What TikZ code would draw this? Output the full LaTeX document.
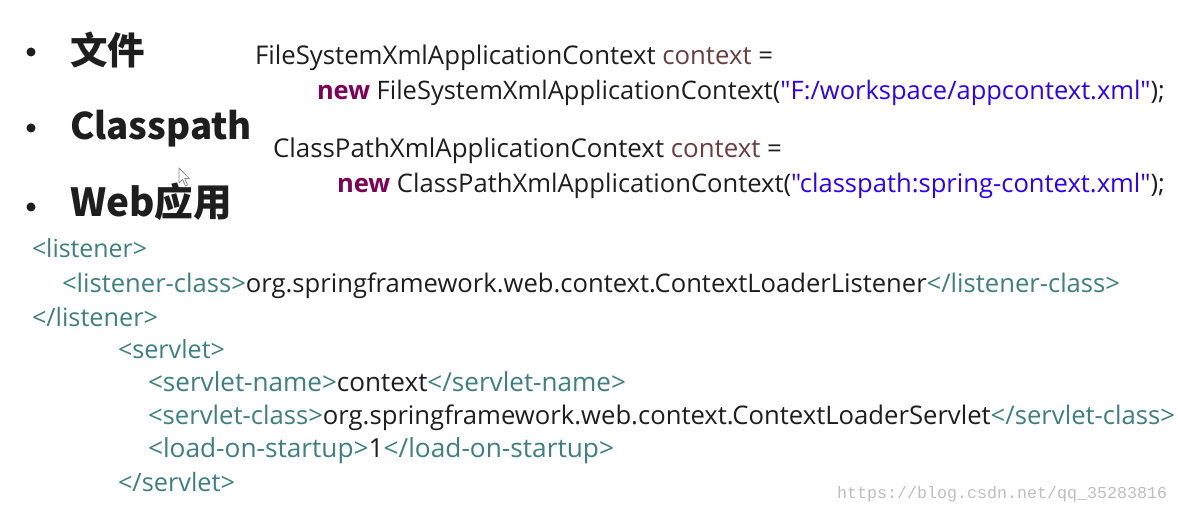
\documentclass[tikz,border=0pt]{standalone}
\usepackage{fontspec}
\usepackage{graphicx}
\setmainfont{Open Sans}[Ligatures=TeXOff]
\newfontfamily\hd{Noto Sans CJK SC}
\newfontfamily\wm{Liberation Mono}
\definecolor{tagc}{HTML}{3F7F7F}
\definecolor{kw}{HTML}{7F0055}
\definecolor{strc}{HTML}{2A00FF}
\definecolor{varc}{HTML}{6A3E3E}
\definecolor{txt}{HTML}{1E1E1E}
\newcommand\fw[2]{\resizebox{#1pt}{!}{#2}}
\newcommand\tg[1]{\textcolor{tagc}{#1}}
\begin{document}
\begin{tikzpicture}[x=1pt,y=-1pt,
  code/.style={anchor=base west,inner sep=0pt,outer sep=0pt,font=\fontsize{20}{24}\selectfont,text=txt},
  head/.style={anchor=base west,inner sep=0pt,outer sep=0pt,font=\hd\bfseries\fontsize{36}{40}\selectfont,text=txt},
  bul/.style={circle,fill=txt,inner sep=0pt,minimum size=9pt}]
\useasboundingbox[fill=white] (0,0) rectangle (1178,513);
% bullets and headings
\node[bul] (b1) at (31,52) {};
\node[bul] (b2) at (31,128) {};
\node[bul] (b3) at (31,207) {};
\node[head] (h1) at (70,65) {\fw{75}{文件}};
\node[head] (h2) at (70,140) {\fw{182}{Classpath}};
\node[head] (h3) at (70,217) {\fw{162}{Web应用}};
% java code
\node[code] (c1) at (255,65) {\fw{518}{FileSystemXmlApplicationContext \textcolor{varc}{context} =}};
\node[code] (c2) at (317,100) {\fw{848}{\textcolor{kw}{\bfseries new} FileSystemXmlApplicationContext(\textcolor{strc}{"F:/workspace/appcontext.xml"});}};
\node[code] (c3) at (273,158) {\fw{509}{ClassPathXmlApplicationContext \textcolor{varc}{context} =}};
\node[code] (c4) at (337,193) {\fw{828}{\textcolor{kw}{\bfseries new} ClassPathXmlApplicationContext(\textcolor{strc}{"classpath:spring-context.xml"});}};
% xml
\node[code] (x1) at (32,258) {\fw{115}{\tg{<listener>}}};
\node[code] (x2) at (62,292) {\fw{1058}{\tg{<listener-class>}org.springframework.web.context.ContextLoaderListener\tg{</listener-class>}}};
\node[code] (x3) at (32,326) {\fw{126}{\tg{</listener>}}};
\node[code] (x4) at (118,358) {\fw{107}{\tg{<servlet>}}};
\node[code] (x5) at (148,391) {\fw{478}{\tg{<servlet-name>}context\tg{</servlet-name>}}};
\node[code] (x6) at (148,424) {\fw{1027}{\tg{<servlet-class>}org.springframework.web.context.ContextLoaderServlet\tg{</servlet-class>}}};
\node[code] (x7) at (148,457) {\fw{466}{\tg{<load-on-startup>}1\tg{</load-on-startup>}}};
\node[code] (x8) at (118,491) {\fw{117}{\tg{</servlet>}}};
% watermark
\node[anchor=base west,inner sep=0pt,text=black!25,font=\wm\fontsize{17}{20}\selectfont] (wm) at (837,498) {\fw{330}{https://blog.csdn.net/qq\_35283816}};
% mouse cursor
\draw[black!45,fill=white,line width=0.8pt,line join=round]
  (179,168) -- (179,183) -- (182.5,179.5) -- (185.5,186) -- (187.5,185) -- (184.8,178.6) -- (189.5,178.6) -- cycle;
\end{tikzpicture}
\end{document}
